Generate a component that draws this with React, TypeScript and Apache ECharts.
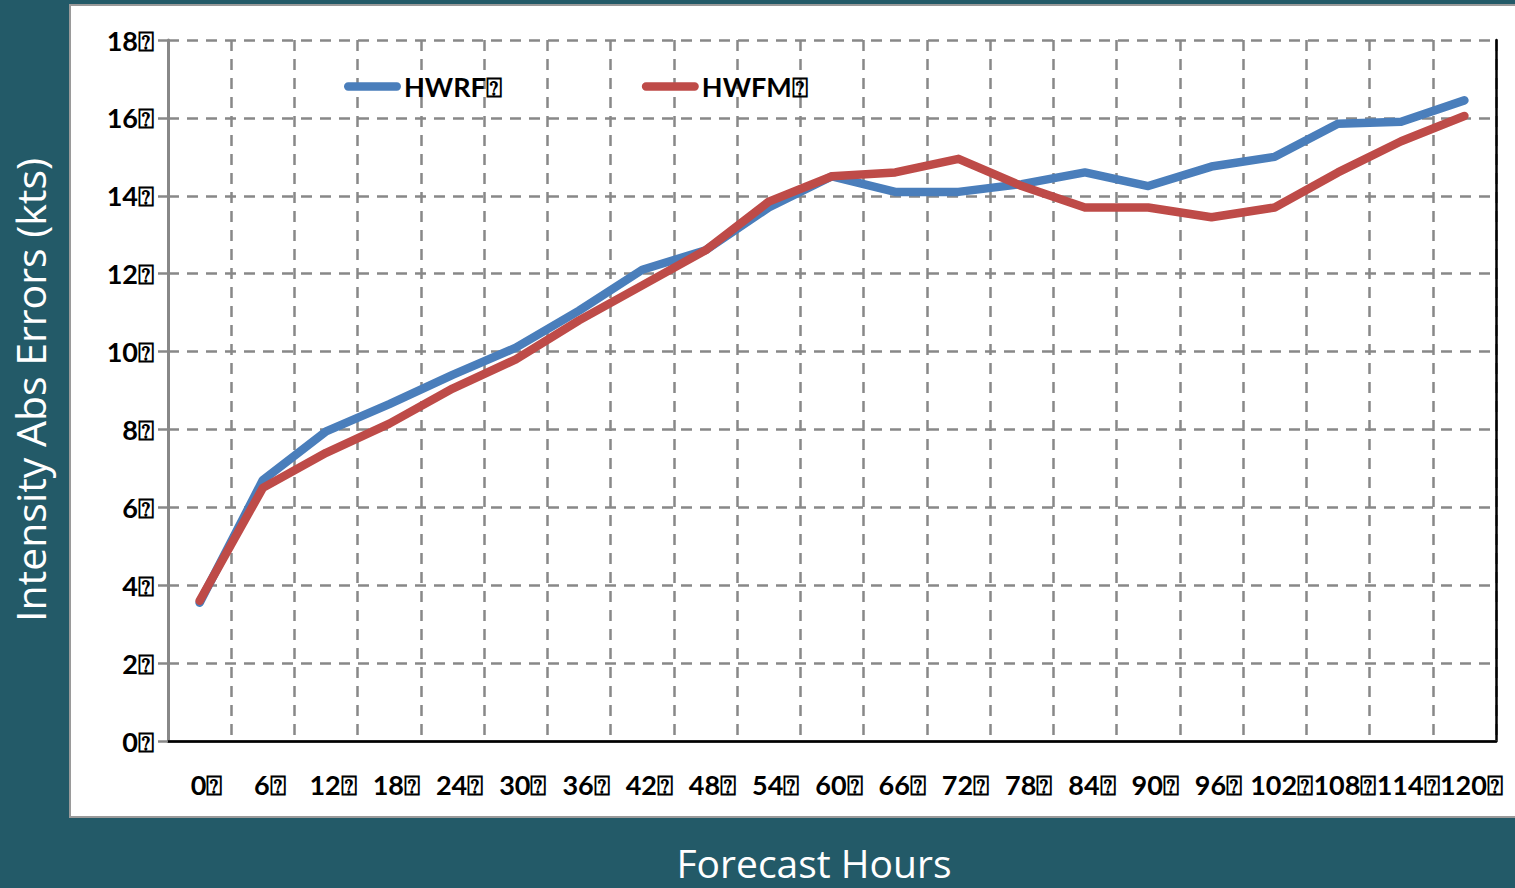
import React, { useEffect, useRef } from "react";
import * as echarts from "echarts";

const TOFU = "\u2370";
const hours = ["0", "6", "12", "18", "24", "30", "36", "42", "48", "54", "60", "66", "72", "78", "84", "90", "96", "102", "108", "114", "120"];
const hwrf = [3.55, 6.7, 7.95, 8.65, 9.4, 10.1, 11.05, 12.1, 12.6, 13.7, 14.5, 14.1, 14.1, 14.3, 14.6, 14.25, 14.75, 15.0, 15.85, 15.9, 16.45];
const hwfm = [3.6, 6.5, 7.4, 8.15, 9.05, 9.8, 10.8, 11.7, 12.6, 13.85, 14.5, 14.6, 14.95, 14.25, 13.7, 13.7, 13.45, 13.7, 14.6, 15.4, 16.05];
const seriesNames = ["HWRF", "HWFM"];
const seriesColors = ["#4A7EBB", "#BE4B48"];
const yTitle = "Intensity Abs Errors (kts)";
const xTitle = "Forecast Hours";

export default function App() {
  const ref = useRef<HTMLDivElement>(null);
  useEffect(() => {
    document.body.style.margin = "0";
    const chart = echarts.init(ref.current!, null, { renderer: "svg" });
    const labelFont = { fontFamily: "Lato, 'DejaVu Sans', sans-serif", fontWeight: "bold" as const, fontSize: 27, color: "#000" };
    const capsule = "path://M4,0 L51,0 A4,4 0 0 1 51,8 L4,8 A4,4 0 0 1 4,0 Z";
    const grid = { color: "#888", width: 2.5, type: [11, 8] };
    chart.setOption({
      animation: false,
      backgroundColor: "#235A68",
      graphic: [
        { type: "rect", z: -10, shape: { x: 70, y: 5, width: 1460, height: 812 }, style: { fill: "#fff", stroke: "#9a9a9a", lineWidth: 2 } },
        { type: "text", x: 30, y: 390, rotation: Math.PI / 2, style: { text: yTitle, fill: "#fff", font: "41px 'Open Sans', sans-serif", align: "center", verticalAlign: "middle" } },
        { type: "text", x: 814, y: 862, style: { text: xTitle, fill: "#fff", font: "39px 'Open Sans', sans-serif", align: "center", verticalAlign: "middle" } },
      ],
      legend: {
        left: 339,
        top: 68,
        itemWidth: 57,
        itemHeight: 9,
        itemGap: 140,
        icon: capsule,
        textStyle: { ...labelFont, padding: [3, 0, 0, -2] },
        formatter: (n: string) => n + TOFU,
        data: seriesNames,
      },
      grid: { left: 168, right: 19, top: 40, bottom: 147 },
      xAxis: [
        {
          type: "category",
          data: hours,
          boundaryGap: true,
          axisLine: { lineStyle: { color: "#888", width: 3 } },
          axisTick: { interval: 0, length: 9, lineStyle: { color: "#888", width: 2.5 } },
          axisLabel: { ...labelFont, interval: 0, margin: 30, padding: [0, 0, 0, 14], formatter: (v: string) => v + TOFU },
          splitLine: { show: true, interval: 0, lineStyle: grid },
        },
        {
          type: "category",
          data: hours,
          position: "top",
          axisLine: { lineStyle: { color: "#000", width: 2.5 } },
          axisTick: { show: false },
          axisLabel: { show: false },
          splitLine: { show: false },
        },
      ],
      yAxis: [
        {
          type: "value",
          min: 0,
          max: 18,
          interval: 2,
          axisLine: { show: true, lineStyle: { color: "#888", width: 3 } },
          axisTick: { show: true, length: 10, lineStyle: { color: "#888", width: 2.5 } },
          axisLabel: { ...labelFont, margin: 14, formatter: (v: number) => v + TOFU },
          splitLine: { show: true, lineStyle: grid },
        },
        {
          type: "value",
          min: 0,
          max: 18,
          interval: 2,
          position: "right",
          axisLine: { show: true, lineStyle: { color: "#000", width: 2.5 } },
          axisTick: { show: false },
          axisLabel: { show: false },
          splitLine: { show: false },
        },
      ],
      series: [
        { name: seriesNames[0], type: "line", data: hwrf, symbol: "none", color: seriesColors[0], lineStyle: { width: 8.5, color: seriesColors[0], cap: "round", join: "round" } },
        { name: seriesNames[1], type: "line", data: hwfm, symbol: "none", color: seriesColors[1], lineStyle: { width: 8.5, color: seriesColors[1], cap: "round", join: "round" } },
      ],
    });
    return () => chart.dispose();
  }, []);
  return <div ref={ref} style={{ position: "fixed", left: 0, top: 0, width: 1515, height: 888 }} />;
}
